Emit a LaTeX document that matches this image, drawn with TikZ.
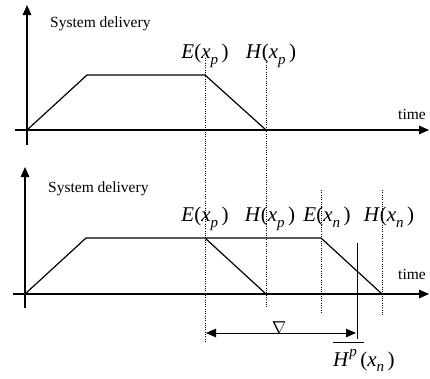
\documentclass[tikz,border=0pt]{standalone}
\usepackage{fontspec}
\setmainfont{Liberation Serif}
\usetikzlibrary{arrows.meta}
\newcommand{\myfx}[2]{\textit{#1}(\textit{x}\raisebox{-0.3em}{\fontsize{15}{15}\selectfont\textit{#2}}\,)}
\begin{document}
\begin{tikzpicture}[x=1pt,y=-1pt,
  axis/.style={line width=1.3pt,-{Triangle[length=10pt,width=8.5pt]}},
  curve/.style={line width=1.2pt},
  guide/.style={line width=0.7pt,dash pattern=on 1pt off 1.3pt},
  lbl/.style={font=\fontsize{15.5}{18}\selectfont,inner sep=0pt},
  mlbl/.style={font=\fontsize{21}{25}\selectfont,inner sep=0pt},
  dim/.style={line width=1pt,{Triangle[length=10pt,width=8.5pt]}-{Triangle[length=10pt,width=8.5pt]}}]
\useasboundingbox (0,0) rectangle (430,378);
% ---------- top panel ----------
\coordinate (tyb) at (27,145);
\coordinate (tyt) at (27,5);
\coordinate (txl) at (15,130);
\coordinate (txr) at (429,130);
\draw[axis] (tyb) -- (tyt);
\draw[axis] (txl) -- (txr);
\coordinate (t0) at (27,130);
\coordinate (t1) at (87,75);
\coordinate (t2) at (205,75);
\coordinate (t3) at (266,130);
\draw[curve] (t0) -- (t1) -- (t2) -- (t3);
\node[lbl,anchor=base west] (tsd) at (50,27) {System delivery};
\node[lbl,anchor=base west] (ttime) at (398,119) {time};
\node[mlbl,anchor=base] (tE) at (205,58) {\myfx{E}{p}};
\node[mlbl,anchor=base] (tH) at (271,58) {\myfx{H}{p}};
% ---------- bottom panel ----------
\coordinate (byb) at (25,308);
\coordinate (byt) at (25,167);
\coordinate (bxl) at (13,294);
\coordinate (bxr) at (429,294);
\draw[axis] (byb) -- (byt);
\draw[axis] (bxl) -- (bxr);
\coordinate (b0) at (25,294);
\coordinate (b1) at (86,238);
\coordinate (b2) at (205,238);
\coordinate (b3) at (266,294);
\coordinate (b4) at (321,238);
\coordinate (b5) at (382,294);
\draw[curve] (b0) -- (b1) -- (b4) -- (b5);
\draw[curve] (b2) -- (b3);
\node[lbl,anchor=base west] (bsd) at (48,192) {System delivery};
\node[lbl,anchor=base west] (btime) at (398,279) {time};
\node[mlbl,anchor=base] (bEp) at (205,221) {\myfx{E}{p}};
\node[mlbl,anchor=base] (bHp) at (270,221) {\myfx{H}{p}};
\node[mlbl,anchor=base] (bEn) at (327,221) {\myfx{E}{n}};
\node[mlbl,anchor=base] (bHn) at (389,221) {\myfx{H}{n}};
% ---------- dotted guides ----------
\coordinate (g1a) at (205,58);  \coordinate (g1b) at (205,343);
\coordinate (g2a) at (266,60);  \coordinate (g2b) at (266,308);
\coordinate (g3a) at (321,190); \coordinate (g3b) at (321,312);
\coordinate (g4a) at (382,190); \coordinate (g4b) at (382,316);
\draw[guide] (g1a) -- (g1b);
\draw[guide] (g2a) -- (g2b);
\draw[guide] (g3a) -- (g3b);
\draw[guide] (g4a) -- (g4b);
% ---------- H^p marker and interval ----------
\coordinate (va) at (357,243);
\coordinate (vb) at (357,339);
\draw[line width=1pt] (va) -- (vb);
\coordinate (da) at (206,333);
\coordinate (db) at (356,333);
\draw[dim] (da) -- (db);
\node[inner sep=0pt,font=\fontsize{19}{19}\selectfont] (nab) at (279,328) {$\nabla$};
\node[mlbl,anchor=base west] (hp) at (333,366) {\textit{H}\raisebox{0.45em}{\fontsize{15}{15}\selectfont\textit{p}}\,(\textit{x}\raisebox{-0.25em}{\fontsize{15}{15}\selectfont\textit{n}}\,)};
\coordinate (ova) at (333,342);
\coordinate (ovb) at (364,342);
\draw[line width=0.8pt] (ova) -- (ovb);
\end{tikzpicture}
\end{document}
